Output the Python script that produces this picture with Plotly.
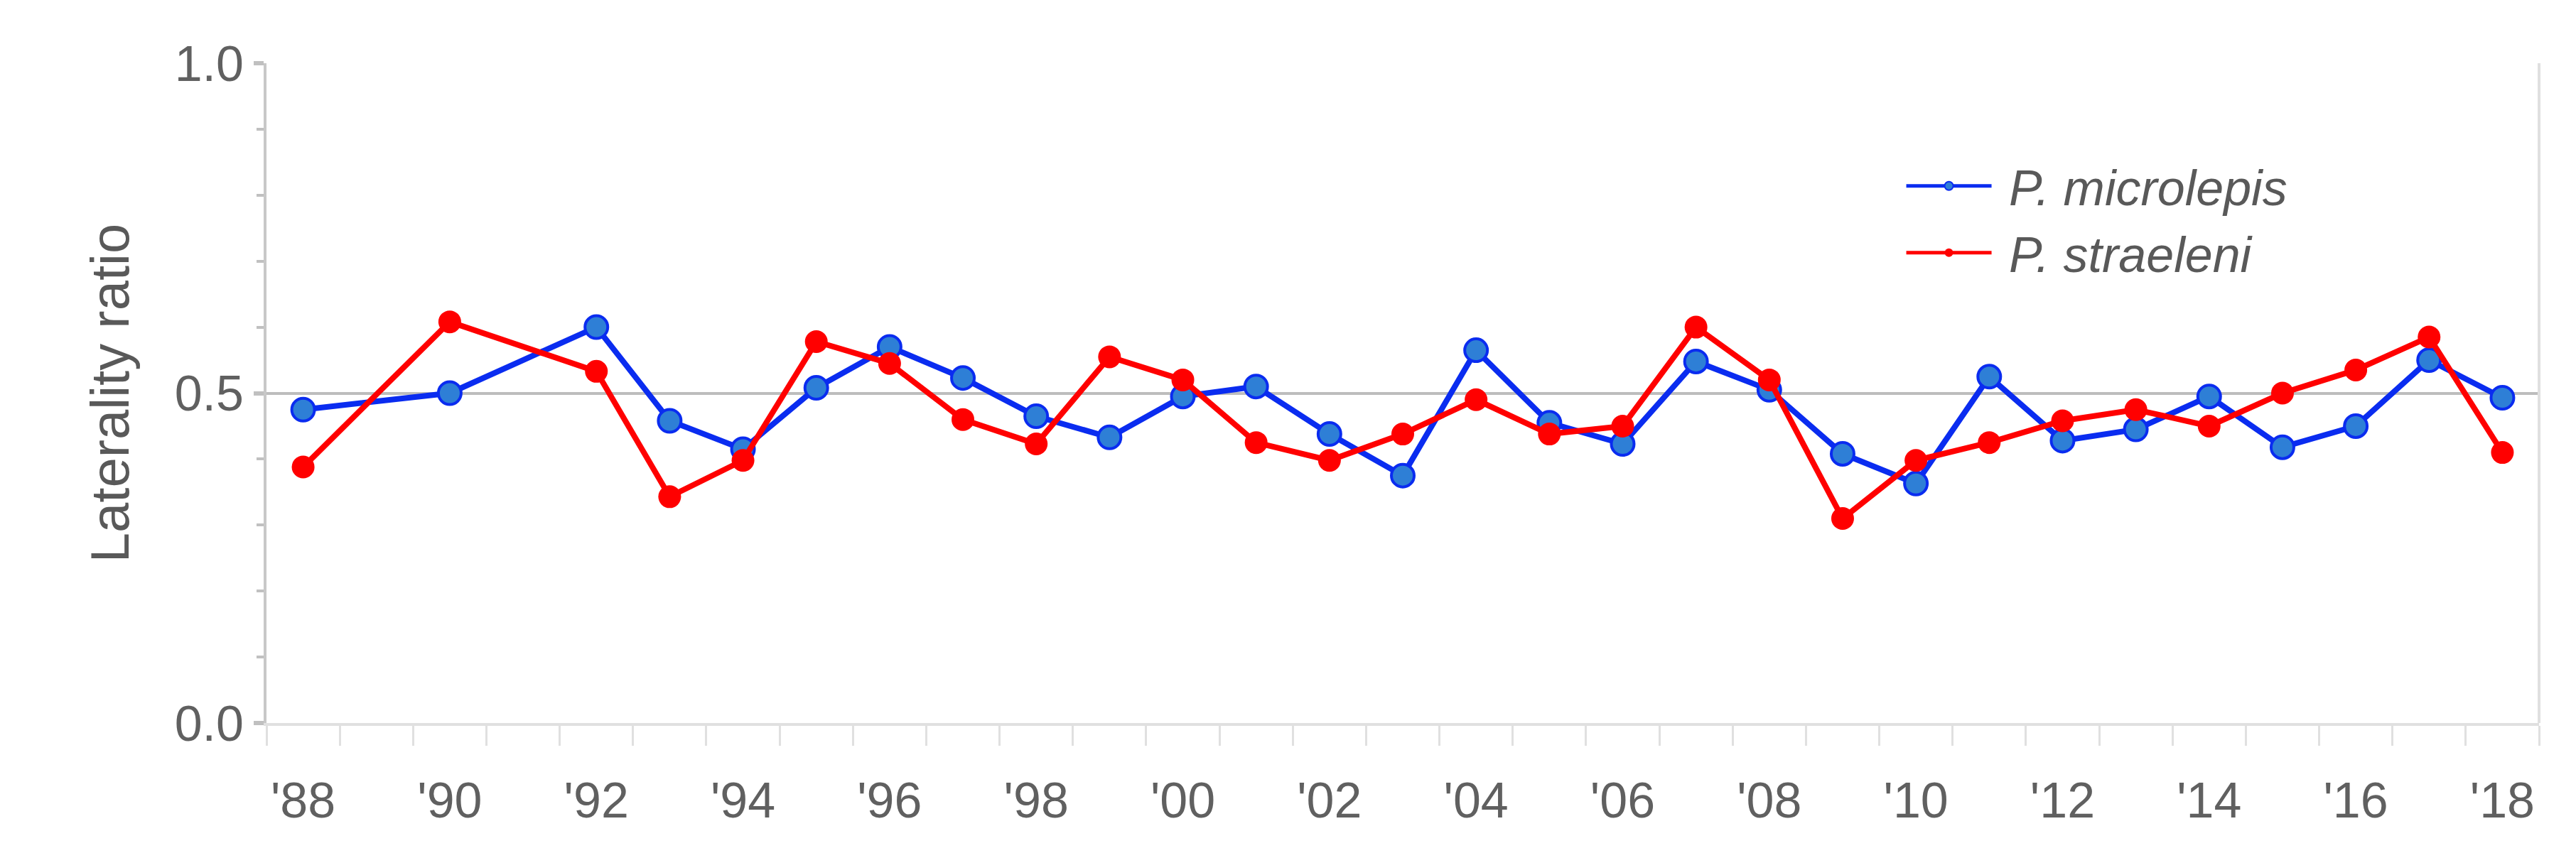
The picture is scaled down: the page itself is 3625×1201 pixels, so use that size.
import plotly.graph_objects as go

years = [1988, 1990] + list(range(1992, 2019))
microlepis = [0.475, 0.50, 0.60, 0.458, 0.415, 0.508, 0.57, 0.523, 0.465, 0.433,
              0.495, 0.51, 0.438, 0.375, 0.565, 0.455, 0.423, 0.548, 0.505, 0.408,
              0.363, 0.525, 0.428, 0.445, 0.495, 0.418, 0.45, 0.55, 0.493]
straeleni = [0.388, 0.608, 0.533, 0.343, 0.398, 0.578, 0.545, 0.46, 0.423, 0.555,
             0.52, 0.425, 0.398, 0.438, 0.49, 0.438, 0.45, 0.60, 0.52, 0.31,
             0.398, 0.425, 0.458, 0.475, 0.45, 0.50, 0.535, 0.585, 0.41]
tick_years = list(range(1988, 2019, 2))
tick_labels = ["'%02d" % (y % 100) for y in tick_years]

fig = go.Figure()
fig.add_trace(go.Scatter(
    x=years, y=microlepis, mode="lines+markers", name=" <i>P. microlepis</i>",
    line=dict(color="#0a2cf0", width=8),
    marker=dict(size=32, color="#2e7fd6", line=dict(color="#0a2cf0", width=4)),
))
fig.add_trace(go.Scatter(
    x=years, y=straeleni, mode="lines+markers", name=" <i>P. straeleni</i>",
    line=dict(color="#ff0000", width=8),
    marker=dict(size=32, color="#ff0000"),
))

font = "Liberation Sans Narrow, Arial Narrow, sans-serif"
fig.update_layout(
    width=3625, height=1201,
    plot_bgcolor="white", paper_bgcolor="white",
    margin=dict(l=367, r=60, t=81, b=191),
    font=dict(family=font, color="#606060", size=70),
    legend=dict(x=0.72, y=0.87, xanchor="left", yanchor="top", itemwidth=120,
                itemsizing="constant", tracegroupgap=10,
                font=dict(size=70, color="#595959"), bgcolor="rgba(0,0,0,0)"),
    xaxis=dict(
        range=[1987.5, 2018.5], tickvals=tick_years, ticktext=tick_labels,
        showgrid=False, zeroline=False, ticks="", ticklabelstandoff=45,
        showline=True, linecolor="#e0e0e0", linewidth=4, mirror=False,
        minor=dict(tickvals=[y + 0.5 for y in range(1987, 2019)], ticks="outside",
                   ticklen=28, tickcolor="#e0e0e0", tickwidth=3),
    ),
    yaxis=dict(
        range=[0, 1.0], tickvals=[0, 0.5, 1.0], ticktext=["0.0", "0.5", "1.0"],
        showgrid=True, gridcolor="#bdbdbd", gridwidth=4, zeroline=False,
        showline=True, linecolor="#c8c8c8", linewidth=4, ticks="outside",
        ticklen=14, tickcolor="#c0c0c0", tickwidth=6,
        minor=dict(dtick=0.1, ticks="outside", ticklen=10, tickcolor="#c0c0c0",
                   tickwidth=4, showgrid=False),
        title=dict(text="Laterality ratio", font=dict(size=76, color="#595959"), standoff=40),
    ),
)
fig.add_shape(type="line", xref="paper", yref="paper", x0=1, x1=1, y0=0, y1=1,
              line=dict(color="#e0e0e0", width=4))

fig.write_html("out.html")
